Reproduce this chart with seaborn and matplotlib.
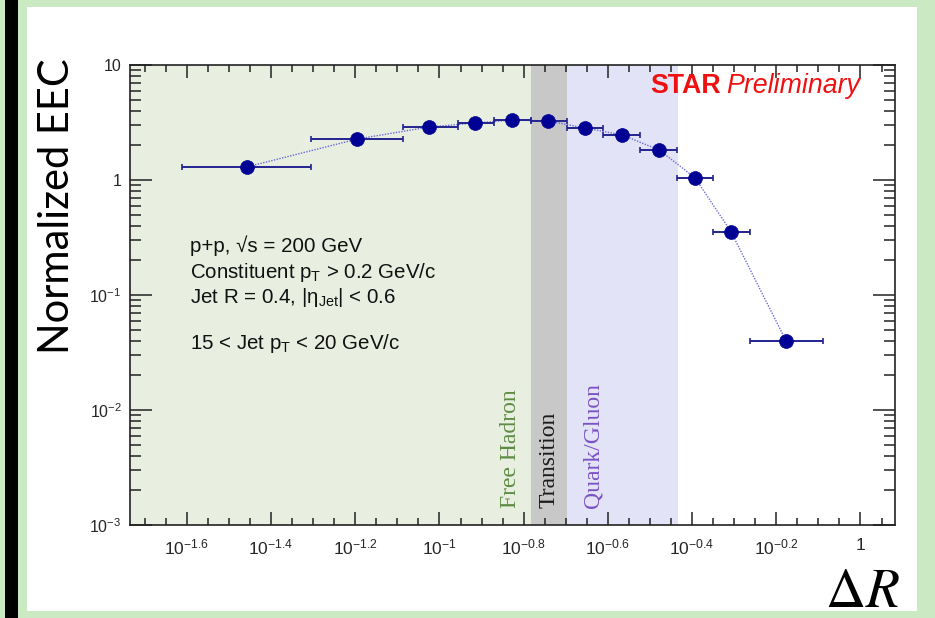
import numpy as np
import pandas as pd
import matplotlib
matplotlib.use("Agg")
import matplotlib.pyplot as plt
import seaborn as sns
from matplotlib.patches import Rectangle
from matplotlib.ticker import FixedLocator, FuncFormatter, NullFormatter

# Normalized energy-energy correlator, p+p at 200 GeV, 15 < jet pT < 20 GeV/c
dr_center = [0.0349, 0.0637, 0.0944, 0.1216, 0.149, 0.181, 0.222, 0.272, 0.333, 0.405, 0.493, 0.666]
dr_low = [0.0245, 0.0495, 0.0819, 0.1107, 0.135, 0.165, 0.201, 0.245, 0.300, 0.367, 0.447, 0.547]
dr_high = [0.0495, 0.0819, 0.1107, 0.135, 0.165, 0.201, 0.245, 0.300, 0.367, 0.447, 0.547, 0.815]
eec = [1.30, 2.27, 2.89, 3.13, 3.32, 3.26, 2.83, 2.46, 1.82, 1.04, 0.353, 0.0398]

# Physics regimes along Delta R
region_names = ["Free Hadron", "Transition", "Quark/Gluon"]
region_low = [10 ** -1.735, 0.165, 0.201]
region_high = [0.165, 0.201, 0.369]
region_fill = ["#e8efe1", "#c8c8c8", "#e3e3f8"]
region_text = ["#5e8b44", "#1a1a1a", "#7b52c4"]

# Axis tick exponents
x_major_exp = [-1.6, -1.4, -1.2, -1.0, -0.8, -0.6, -0.4, -0.2, 0.0]
y_major = [1e-3, 1e-2, 1e-1, 1, 10]

W, H = 935, 618

sns.set_theme(style="ticks")
plt.rcParams.update({
    "font.family": ["Liberation Sans", "DejaVu Sans"],
    "mathtext.fontset": "custom",
    "mathtext.rm": "Liberation Sans",
    "mathtext.it": "Liberation Sans:italic",
    "mathtext.bf": "Liberation Sans:bold",
    "mathtext.default": "rm",
})


def fx(x):
    return x / W


def fy(y):
    return 1 - y / H


fig = plt.figure(figsize=(W / 100, H / 100), dpi=100, facecolor="#cbe9c3")
# slide frame: white panel with a dark bar on the left
fig.patches.append(Rectangle((fx(27), fy(611)), fx(917) - fx(27), fy(7) - fy(611),
                             transform=fig.transFigure, facecolor="white", edgecolor="none", zorder=-10))
fig.patches.append(Rectangle((fx(5), 0), fx(18) - fx(5), 1,
                             transform=fig.transFigure, facecolor="black", edgecolor="none", zorder=-10))

ax = fig.add_axes([fx(130), fy(525), fx(895) - fx(130), fy(65) - fy(525)])
ax.set_facecolor("white")
ax.set_xscale("log")
ax.set_yscale("log")
ax.set_xlim(10 ** -1.735, 10 ** 0.082)
ax.set_ylim(1e-3, 10)

for lo, hi, c in zip(region_low, region_high, region_fill):
    ax.axvspan(lo, hi, color=c, lw=0, zorder=0)

df = pd.DataFrame({"dr": dr_center, "eec": eec, "lo": dr_low, "hi": dr_high})

sns.lineplot(data=df, x="dr", y="eec", ax=ax, sort=False, color="#6a6ad8",
             linestyle=(0, (1, 1)), linewidth=1.0, zorder=2)
ax.errorbar(df["dr"], df["eec"], xerr=[df["dr"] - df["lo"], df["hi"] - df["dr"]],
            fmt="none", ecolor="#23238f", elinewidth=1.4, capsize=2, capthick=1.2, zorder=3)
sns.scatterplot(data=df, x="dr", y="eec", ax=ax, s=100, color="#000094",
                edgecolor="#000094", linewidth=0.5, zorder=4)

# ticks, ROOT style (inward, mirrored)
xmaj = [10 ** e for e in x_major_exp]
xmin_exp = np.round(np.arange(-1.70, 0.081, 0.05), 2)
xminor = [10 ** e for e in xmin_exp if not np.any(np.isclose(e, x_major_exp))]
ax.xaxis.set_major_locator(FixedLocator(xmaj))
ax.xaxis.set_minor_locator(FixedLocator(xminor))


def xfmt(v, pos):
    e = np.log10(v)
    if abs(e) < 1e-9:
        return "1"
    if abs(e - round(e)) < 1e-9:
        return r"$10^{%d}$" % round(e)
    return r"$10^{%.1f}$" % e


ax.xaxis.set_major_formatter(FuncFormatter(xfmt))
ax.xaxis.set_minor_formatter(NullFormatter())

ymin_t = [m * 10.0 ** d for d in range(-3, 1) for m in range(2, 10)]
ax.yaxis.set_major_locator(FixedLocator(y_major))
ax.yaxis.set_minor_locator(FixedLocator(ymin_t))


def yfmt(v, pos):
    e = int(round(np.log10(v)))
    if e == 0:
        return "1"
    if e == 1:
        return "10"
    return r"$10^{%d}$" % e


ax.yaxis.set_major_formatter(FuncFormatter(yfmt))
ax.yaxis.set_minor_formatter(NullFormatter())

ax.tick_params(which="both", direction="in", top=True, right=True, color="#222222", width=1.1)
ax.tick_params(axis="x", which="major", length=9.5, pad=9, labelsize=12.5)
ax.tick_params(axis="x", which="minor", length=5)
ax.tick_params(axis="y", which="major", length=16, pad=6, labelsize=11.5)
ax.tick_params(axis="y", which="minor", length=8)
for s in ax.spines.values():
    s.set_linewidth(1.2)
    s.set_color("#222222")
ax.set_xlabel("")
ax.set_ylabel("")

# regime labels
region_x = [511, 549, 593]
for name, px, c in zip(region_names, region_x, region_text):
    fig.text(fx(px), fy(508), name, rotation=90, ha="center", va="bottom",
             color=c, fontsize=17, family="Liberation Serif")

# experiment tag
star = fig.text(fx(650), fy(93), "STAR", color="#ee1111", fontsize=19.3,
                fontweight="bold", ha="left", va="baseline")
fig.add_artist(matplotlib.text.Annotation(
    "Preliminary", xy=(1, 0), xycoords=star, xytext=(4, 0),
    textcoords="offset points", ha="left", va="bottom",
    color="#ee1111", fontsize=19.3, fontstyle="italic"))

# selection summary
info = [
    (252, "p+p, \u221as = 200 GeV"),
    (278, r"Constituent p$_{\mathrm{T}}$ > 0.2 GeV/c"),
    (303, r"Jet R = 0.4, |$\eta_{\mathrm{Jet}}$| < 0.6"),
    (349, r"15 < Jet p$_{\mathrm{T}}$ < 20 GeV/c"),
]
for py, t in info:
    fig.text(fx(190), fy(py), t, fontsize=14.8, ha="left", va="baseline", color="#111111")

fig.text(fx(57), fy(206), "Normalized EEC", rotation=90, ha="center", va="center",
         fontsize=30, family="Lato", color="black")
fig.text(fx(900), fy(607), r"$\Delta\mathit{R}$", ha="right", va="baseline",
         fontsize=40, math_fontfamily="stix", color="black")

fig.savefig("out.png", dpi=100, facecolor=fig.get_facecolor())
